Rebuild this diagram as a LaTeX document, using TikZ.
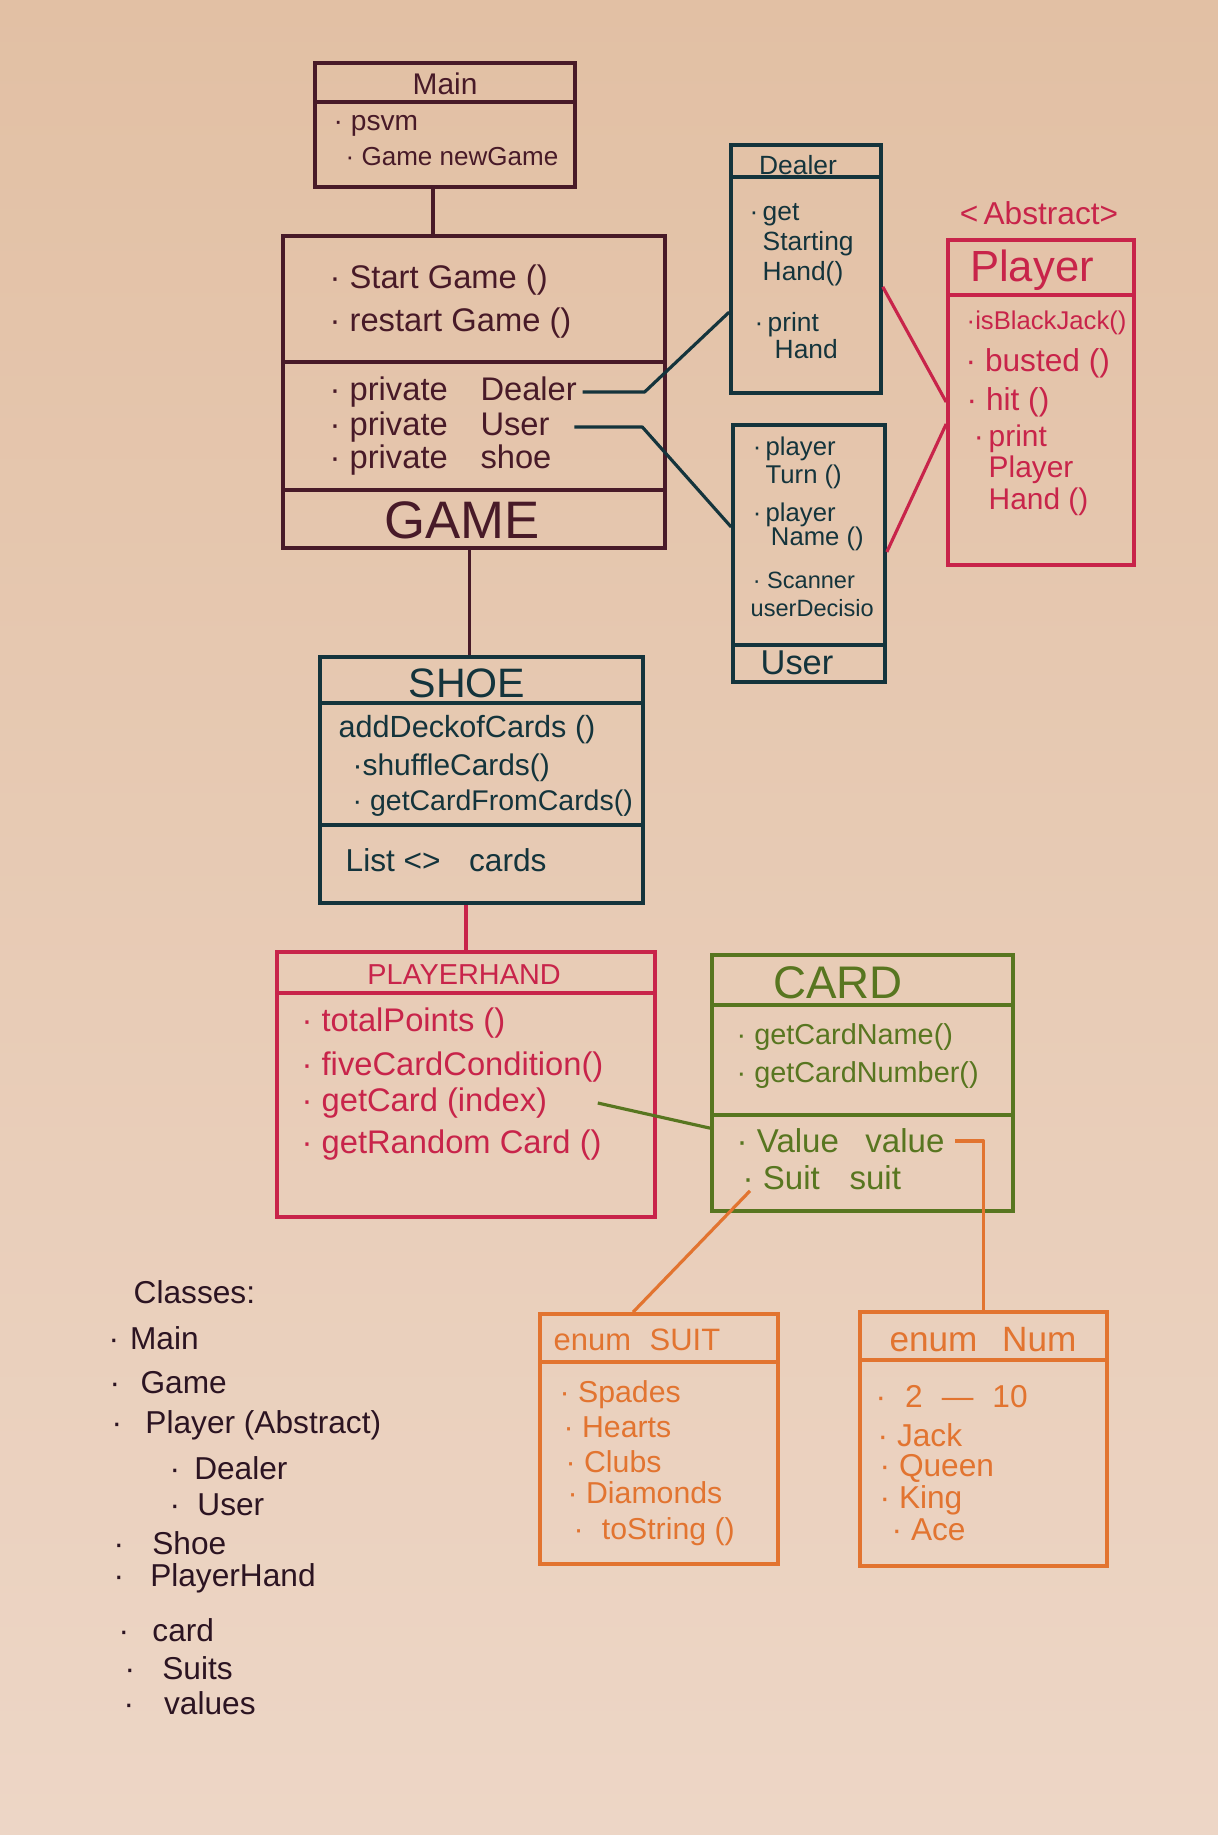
\documentclass[tikz,border=0pt]{standalone}
\usepackage{fontspec}
\setmainfont{Liberation Sans}
\usetikzlibrary{positioning,calc}

\definecolor{paperTop}{RGB}{226,192,164}
\definecolor{paperBot}{RGB}{237,214,198}
\definecolor{inkGame}{RGB}{72,26,40}
\definecolor{inkTeal}{RGB}{20,52,60}
\definecolor{inkRed}{RGB}{200,36,74}
\definecolor{inkGreen}{RGB}{88,118,32}
\definecolor{inkOrange}{RGB}{226,116,48}
\definecolor{inkList}{RGB}{44,20,34}

\newcommand{\handsize}[2]{\fontsize{#1}{#2}\selectfont}

\tikzset{
	box/.style={draw=#1, line width=1pt, inner sep=0pt},
	rule/.style={draw=#1, line width=1pt},
	conn/.style={draw=#1, line width=0.9pt, line join=round},
	item/.style={anchor=west, inner sep=0pt, align=left, text=#1},
	head/.style={inner sep=0pt, text=#1},
}

\begin{document}
\begin{tikzpicture}[x=0.01cm, y=-0.01cm]
	\useasboundingbox (0,0) rectangle (1218,1835);
	\shade[top color=paperTop, bottom color=paperBot] (0,0) rectangle (1218,1835);

	% Main
	\node[box=inkGame, minimum width=2.6cm, minimum height=1.24cm] (main) at (445,125) {};
	\draw[rule=inkGame] (main.west |- 0,102) -- (main.east |- 0,102);
	\node[head=inkGame, font=\handsize{8.5}{10}] (mainName) at (445,84) {Main};
	\node[item=inkGame, font=\handsize{8}{10}] (psvm) at (333,126) {· psvm};
	\node[item=inkGame, font=\handsize{7.4}{10}] (newGame) at (345,157) {· Game newGame};

	% Game
	\node[box=inkGame, minimum width=3.82cm, minimum height=3.12cm] (game) at (474,392) {};
	\draw[rule=inkGame] (game.west |- 0,362) -- (game.east |- 0,362);
	\draw[rule=inkGame] (game.west |- 0,490) -- (game.east |- 0,490);
	\node[item=inkGame, font=\handsize{9.3}{11}] (startGame) at (329,280) {· Start Game ()};
	\node[item=inkGame, font=\handsize{9.3}{11}] (restartGame) at (329,323) {· restart Game ()};
	\node[item=inkGame, font=\handsize{9.3}{11}] (gDealer) at (329,392) {· private\hspace{1em}Dealer};
	\node[item=inkGame, font=\handsize{9.3}{11}] (gUser) at (329,427) {· private\hspace{1em}User};
	\node[item=inkGame, font=\handsize{9.3}{11}] (gShoe) at (329,460) {· private\hspace{1em}shoe};
	\node[head=inkGame, font=\handsize{15}{18}] (gameName) at (462,520) {GAME};

	% Dealer
	\node[box=inkTeal, minimum width=1.5cm, minimum height=2.48cm] (dealer) at (806,269) {};
	\draw[rule=inkTeal] (dealer.west |- 0,177) -- (dealer.east |- 0,177);
	\node[head=inkTeal, font=\handsize{7.5}{9}] (dealerName) at (798,165) {Dealer};
	\node[item=inkTeal, font=\handsize{7.5}{8.5}] (dGet) at (762,245) {\llap{·\,}get\\Starting\\Hand()};
	\node[item=inkTeal, font=\handsize{7.5}{7.7}] (dPrint) at (767,336) {\llap{·\,}print\\\hspace*{2pt}Hand};

	% User
	\node[box=inkTeal, minimum width=1.52cm, minimum height=2.57cm] (user) at (809,553.5) {};
	\draw[rule=inkTeal] (user.west |- 0,645) -- (user.east |- 0,645);
	\node[head=inkTeal, font=\handsize{9.8}{11}] (userName) at (797,663) {User};
	\node[item=inkTeal, font=\handsize{7.3}{6.6}] (uTurn) at (765,463) {\llap{·\,}player\\Turn ()};
	\node[item=inkTeal, font=\handsize{7.3}{7}] (uName) at (765,527) {\llap{·\,}player\\\hspace*{1.5pt}Name ()};
	\node[item=inkTeal, font=\handsize{6.7}{8}] (uScan) at (750,594) {\hspace*{0.6pt}· Scanner\\userDecisio};

	% Player
	\node[box=inkRed, minimum width=1.86cm, minimum height=3.25cm] (player) at (1041,402.5) {};
	\draw[rule=inkRed] (player.west |- 0,295) -- (player.east |- 0,295);
	\node[head=inkRed, font=\handsize{9}{10}] (abstract) at (1039,213) {<\,Abstract>};
	\node[head=inkRed, font=\handsize{12.4}{14}] (playerName) at (1032,270) {Player};
	\node[item=inkRed, font=\handsize{7.3}{9}] (pBlack) at (966,323) {·isBlackJack()};
	\node[item=inkRed, font=\handsize{9}{10}] (pBust) at (965,363) {· busted ()};
	\node[item=inkRed, font=\handsize{9}{10}] (pHit) at (966,402) {· hit ()};
	\node[item=inkRed, font=\handsize{8.5}{7}] (pPrint) at (988,470) {\llap{·\,}print\\Player\\Hand ()};

	% Shoe
	\node[box=inkTeal, minimum width=3.23cm, minimum height=2.46cm] (shoe) at (481.5,780) {};
	\draw[rule=inkTeal] (shoe.west |- 0,703) -- (shoe.east |- 0,703);
	\draw[rule=inkTeal] (shoe.west |- 0,825) -- (shoe.east |- 0,825);
	\node[head=inkTeal, font=\handsize{11.7}{14}] (shoeName) at (467,683) {SHOE};
	\node[item=inkTeal, font=\handsize{8.7}{10}] (addDeck) at (338,730) {addDeckofCards ()};
	\node[item=inkTeal, font=\handsize{8.5}{10}] (shuffle) at (352,768) {·shuffleCards()};
	\node[item=inkTeal, font=\handsize{8.1}{10}] (getFrom) at (352,803) {· getCardFromCards()};
	\node[item=inkTeal, font=\handsize{9}{10}] (cardList) at (345,860) {List <>\hspace{0.9em}cards};

	% PlayerHand
	\node[box=inkRed, minimum width=3.78cm, minimum height=2.65cm] (hand) at (466,1084.5) {};
	\draw[rule=inkRed] (hand.west |- 0,993) -- (hand.east |- 0,993);
	\node[head=inkRed, font=\handsize{8.2}{10}] (handName) at (464,975) {PLAYERHAND};
	\node[item=inkRed, font=\handsize{9.3}{11}] (hTotal) at (301,1023) {· totalPoints ()};
	\node[item=inkRed, font=\handsize{9.3}{11}] (hFive) at (301,1067) {· fiveCardCondition()};
	\node[item=inkRed, font=\handsize{9.3}{11}] (hGetCard) at (301,1103) {· getCard (index)};
	\node[item=inkRed, font=\handsize{9.3}{11}] (hRandom) at (301,1145) {· getRandom Card ()};

	% Card
	\node[box=inkGreen, minimum width=3.01cm, minimum height=2.56cm] (card) at (862.5,1083) {};
	\draw[rule=inkGreen] (card.west |- 0,1005) -- (card.east |- 0,1005);
	\draw[rule=inkGreen] (card.west |- 0,1115) -- (card.east |- 0,1115);
	\node[head=inkGreen, font=\handsize{13}{15}] (cardName) at (838,983) {CARD};
	\node[item=inkGreen, font=\handsize{8.2}{10}] (cName) at (736,1037) {· getCardName()};
	\node[item=inkGreen, font=\handsize{8.2}{10}] (cNumber) at (736,1075) {· getCardNumber()};
	\node[item=inkGreen, font=\handsize{9.4}{11}] (cValue) at (736,1141) {· Value\hspace{0.8em}value};
	\node[item=inkGreen, font=\handsize{9.4}{11}] (cSuit) at (742,1178) {· Suit\hspace{0.9em}suit};

	% enum Suit
	\node[box=inkOrange, minimum width=2.38cm, minimum height=2.5cm] (suit) at (659,1439) {};
	\draw[rule=inkOrange] (suit.west |- 0,1362) -- (suit.east |- 0,1362);
	\node[item=inkOrange, font=\handsize{8.8}{10}] (suitName) at (553,1340) {enum\hspace{0.6em}SUIT};
	\node[item=inkOrange, font=\handsize{8.6}{10}] (sSpades) at (559,1395) {· Spades};
	\node[item=inkOrange, font=\handsize{8.6}{10}] (sHearts) at (563,1427) {· Hearts};
	\node[item=inkOrange, font=\handsize{8.6}{10}] (sClubs) at (565,1462) {· Clubs};
	\node[item=inkOrange, font=\handsize{8.6}{10}] (sDiamonds) at (567,1493) {· Diamonds};
	\node[item=inkOrange, font=\handsize{8.6}{10}] (sToString) at (573,1532) {·\hspace{0.6em}toString ()};

	% enum Num
	\node[box=inkOrange, minimum width=2.47cm, minimum height=2.54cm] (num) at (983.5,1439) {};
	\draw[rule=inkOrange] (num.west |- 0,1360) -- (num.east |- 0,1360);
	\node[head=inkOrange, font=\handsize{10}{12}] (numName) at (983,1340) {enum\hspace{0.7em}Num};
	\node[item=inkOrange, font=\handsize{9}{10}] (nRange) at (875,1397) {·\hspace{0.6em}2\hspace{0.6em}—\hspace{0.6em}10};
	\node[item=inkOrange, font=\handsize{9}{10}] (nJack) at (877,1435) {· Jack};
	\node[item=inkOrange, font=\handsize{9}{10}] (nQueen) at (879,1468) {· Queen};
	\node[item=inkOrange, font=\handsize{9}{10}] (nKing) at (879,1500) {· King};
	\node[item=inkOrange, font=\handsize{9}{10}] (nAce) at (891,1530) {· Ace};

	% connectors
	\draw[conn=inkGame] ([xshift=-1.2mm]main.south) -- ++(0,49);
	\draw[conn=inkGame] ([xshift=-1.2mm]shoe.north) -- ++(0,-109);
	\draw[conn=inkRed] (hand.north |- shoe.south) -- (hand.north);
	\draw[conn=inkTeal] ([xshift=0.5mm]gDealer.east) -- ++(62,0) -- (dealer.west |- dPrint.north);
	\draw[conn=inkTeal] ([xshift=2.4mm]gUser.east) -- ++(68,0) -- (user.west |- uName);
	\draw[conn=inkRed] (dealer.east |- dGet.south) -- (player.west |- pHit);
	\draw[conn=inkRed] (user.east |- uName.south) -- (player.west |- pPrint.north);
	\draw[conn=inkGreen] ([xshift=5mm]hGetCard.east) -- (card.west |- cValue.north);
	\draw[conn=inkOrange] ([xshift=1mm]cValue.east) -| (num.north);
	\draw[conn=inkOrange] ([xshift=0.8mm]cSuit.south west) -- ([xshift=-2.6mm]suit.north);

	% class list
	\node[item=inkList, font=\handsize{9}{11}] (classes) at (133,1292) {Classes:};
	\node[item=inkList, font=\handsize{9}{11}] (lMain) at (108,1338) {·\hspace{3.1pt}Main};
	\node[item=inkList, font=\handsize{9}{11}] (lGame) at (109,1383) {·\hspace{5.8pt}Game};
	\node[item=inkList, font=\handsize{9}{11}] (lPlayer) at (111,1425) {·\hspace{6.6pt}Player (Abstract)};
	\node[item=inkList, font=\handsize{9}{11}] (lDealer) at (169,1468) {·\hspace{4pt}Dealer};
	\node[item=inkList, font=\handsize{9}{11}] (lUser) at (169,1505) {·\hspace{4.9pt}User};
	\node[item=inkList, font=\handsize{9}{11}] (lShoe) at (113,1543) {·\hspace{8pt}Shoe};
	\node[item=inkList, font=\handsize{9}{11}] (lHand) at (113,1578) {·\hspace{7.4pt}PlayerHand};
	\node[item=inkList, font=\handsize{9}{11}] (lCard) at (118,1630) {·\hspace{6.6pt}card};
	\node[item=inkList, font=\handsize{9}{11}] (lSuits) at (124,1668) {·\hspace{7.7pt}Suits};
	\node[item=inkList, font=\handsize{9}{11}] (lValues) at (123,1703) {·\hspace{8.5pt}values};
\end{tikzpicture}
\end{document}
